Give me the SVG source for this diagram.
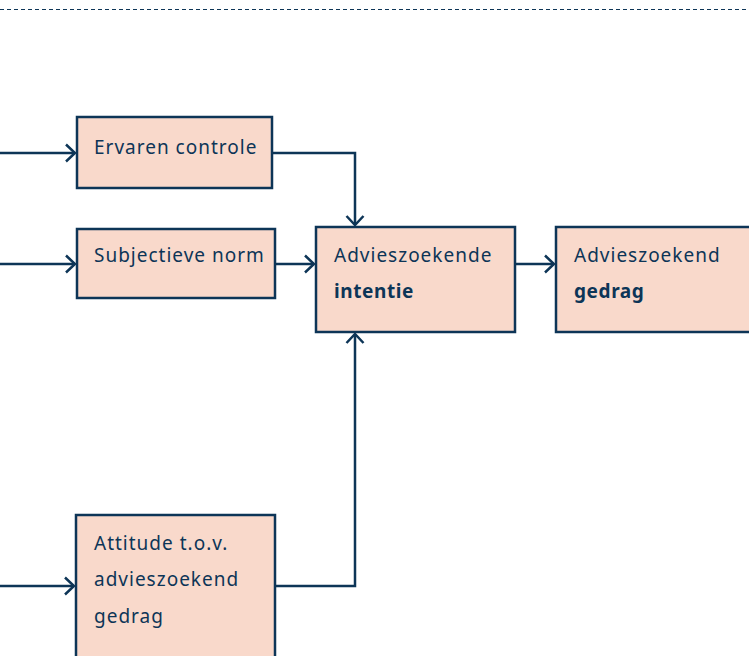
<svg xmlns="http://www.w3.org/2000/svg" width="749" height="656" viewBox="0 0 749 656">
<style>
.box{fill:#f9d9cb;stroke:#0d3557;stroke-width:2.5}
.t{font-family:"Noto Sans","DejaVu Sans",sans-serif;font-size:19px;fill:#0d3557;letter-spacing:1px}
.b{font-weight:bold;letter-spacing:0.6px}
.c{fill:none;stroke:#0d3557;stroke-width:2.5}
</style>
<defs>
<marker id="ah" viewBox="0 0 12 20" refX="11" refY="10" markerWidth="12" markerHeight="20" markerUnits="userSpaceOnUse" orient="auto">
<path d="M2 1.5 L11 10 L2 18.5" fill="none" stroke="#0d3557" stroke-width="2.5"/>
</marker>
</defs>
<line x1="0" y1="9.5" x2="749" y2="9.5" stroke="#0d3557" stroke-width="1" stroke-dasharray="4 3"/>
<g id="connectors">
<path class="c" d="M0 153 H75" marker-end="url(#ah)"/>
<path class="c" d="M0 264 H75" marker-end="url(#ah)"/>
<path class="c" d="M0 586 H74" marker-end="url(#ah)"/>
<path class="c" d="M272 153 H355 V225" marker-end="url(#ah)"/>
<path class="c" d="M275 264 H314" marker-end="url(#ah)"/>
<path class="c" d="M515 264 H554" marker-end="url(#ah)"/>
<path class="c" d="M275 586 H355 V334" marker-end="url(#ah)"/>
</g>
<g id="ervaren">
<rect class="box" x="77" y="117" width="195" height="71"/>
<text class="t" x="94" y="154">Ervaren controle</text>
</g>
<g id="subjectieve">
<rect class="box" x="77" y="229" width="198" height="69"/>
<text class="t" x="94" y="262">Subjectieve norm</text>
</g>
<g id="intentie">
<rect class="box" x="316" y="227" width="199" height="105"/>
<text class="t" x="334" y="262">Advieszoekende</text>
<text class="t b" x="334" y="298">intentie</text>
</g>
<g id="gedrag">
<rect class="box" x="556" y="227" width="200" height="105"/>
<text class="t" x="574" y="262">Advieszoekend</text>
<text class="t b" x="574" y="298">gedrag</text>
</g>
<g id="attitude">
<rect class="box" x="76" y="515" width="199" height="150"/>
<text class="t" x="94" y="550">Attitude t.o.v.</text>
<text class="t" x="94" y="586">advieszoekend</text>
<text class="t" x="94" y="623">gedrag</text>
</g>
</svg>
